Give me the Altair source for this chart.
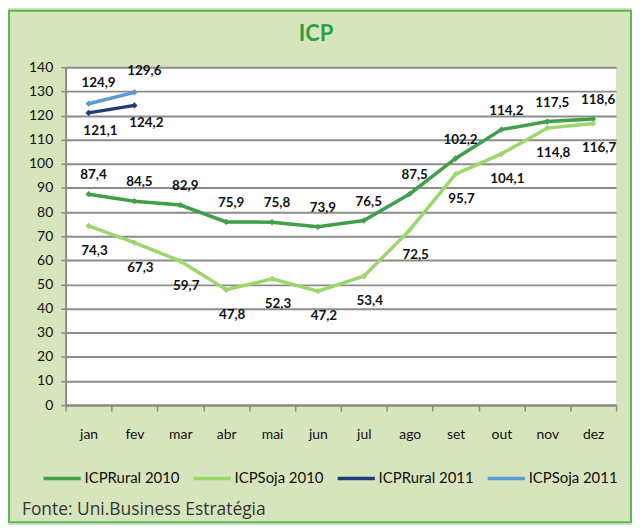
import altair as alt
import pandas as pd

months = ["jan", "fev", "mar", "abr", "mai", "jun", "jul", "ago", "set", "out", "nov", "dez"]
rural_2010 = [87.4, 84.5, 82.9, 75.9, 75.8, 73.9, 76.5, 87.5, 102.2, 114.2, 117.5, 118.6]
soja_2010 = [74.3, 67.3, 59.7, 47.8, 52.3, 47.2, 53.4, 72.5, 95.7, 104.1, 114.8, 116.7]
rural_2011 = [121.1, 124.2]
soja_2011 = [124.9, 129.6]
series_names = ["ICPRural 2010", "ICPSoja 2010", "ICPRural 2011", "ICPSoja 2011"]
series_colors = ["#3f9f4a", "#9bd86c", "#1f3c78", "#5b9bd5"]
title_text = "ICP"
source_text = "Fonte: Uni.Business Estratégia"

rows = []
for name, vals in zip(series_names, [rural_2010, soja_2010, rural_2011, soja_2011]):
    for i, (m, v) in enumerate(zip(months, vals)):
        rows.append({"mes": m, "idx": i, "valor": v, "serie": name})
df = pd.DataFrame(rows)

FONT = "Lato"

xenc = alt.X("mes:N", sort=months, title=None,
             scale=alt.Scale(paddingInner=0, paddingOuter=0),
             axis=alt.Axis(labelAngle=0, labelFontSize=14, labelFont=FONT, labelColor="#111",
                           tickBand="extent", tickSize=6, tickColor="#8a8a8a", tickWidth=1.5,
                           domainColor="#8a8a8a", domainWidth=2, labelPadding=17, grid=False))
yenc = alt.Y("valor:Q", title=None,
             scale=alt.Scale(domain=[0, 140], nice=False),
             axis=alt.Axis(values=list(range(0, 141, 10)), labelOverlap=False,
                           labelFontSize=14, labelFont=FONT,
                           labelColor="#111", tickSize=5, tickColor="#8a8a8a", tickWidth=1.5,
                           domainColor="#8a8a8a", domainWidth=2, labelPadding=8,
                           gridColor="#8c8c8c", gridWidth=2))

base = alt.Chart(df).encode(
    x=xenc,
    y=yenc,
    color=alt.Color("serie:N", sort=series_names,
                    scale=alt.Scale(domain=series_names, range=series_colors),
                    legend=alt.Legend(title=None, orient="none", direction="horizontal",
                                      legendX=-24, legendY=393, columns=4,
                                      symbolType="stroke", symbolSize=1400, symbolStrokeWidth=3.5,
                                      labelFontSize=15, labelFont=FONT, labelColor="#111",
                                      columnPadding=6, labelOffset=2)),
)

lines = base.mark_line(strokeWidth=3.5).encode(order=alt.Order("idx:Q"))
points = base.mark_point(shape="diamond", filled=True, size=40, opacity=1)

label_expr = "replace(format(datum.valor, '.1f'), '.', ',')"

def labels(name, dx, dy, baseline):
    return base.transform_filter(alt.datum.serie == name).transform_calculate(
        lab=label_expr
    ).mark_text(fontSize=13.5, fontWeight="bold", font=FONT,
                dx=dx, dy=dy, baseline=baseline).encode(
        text="lab:N",
        color=alt.value("#111"),
    )

lab_r10 = labels("ICPRural 2010", 5, -12, "bottom")
lab_s10 = labels("ICPSoja 2010", 6, 18, "top")
lab_r11 = labels("ICPRural 2011", 12, 11, "top")
lab_s11 = labels("ICPSoja 2011", 10, -14, "bottom")

title = alt.Chart(pd.DataFrame({"t": [title_text]})).mark_text(
    align="center", baseline="middle", fontSize=22, font=FONT, fontWeight="bold", color="#2e9e3e"
).encode(x=alt.value(252), y=alt.value(-33), text="t:N")

source = alt.Chart(pd.DataFrame({"t": [source_text]})).mark_text(
    align="left", baseline="middle", fontSize=17.5, font="Open Sans", color="#333"
).encode(x=alt.value(-44), y=alt.value(446), text="t:N")

border = alt.Chart(pd.DataFrame({"a": [0]})).mark_rect(
    fillOpacity=0, stroke="#5cb85c", strokeWidth=2
).encode(x=alt.value(-57), x2=alt.value(569), y=alt.value(-57), y2=alt.value(458))

chart = alt.layer(border, lines, points, lab_r10, lab_s10, lab_r11, lab_s11, title, source).properties(
    width=554, height=340,
    autosize=alt.AutoSizeParams(type="none"),
    padding={"left": 58, "top": 58, "right": 16, "bottom": 119},
).configure(background="#d7e5bd").configure_view(fill="white", stroke=None)

chart.save("out.html", embed_options={"renderer": "svg", "actions": False})
